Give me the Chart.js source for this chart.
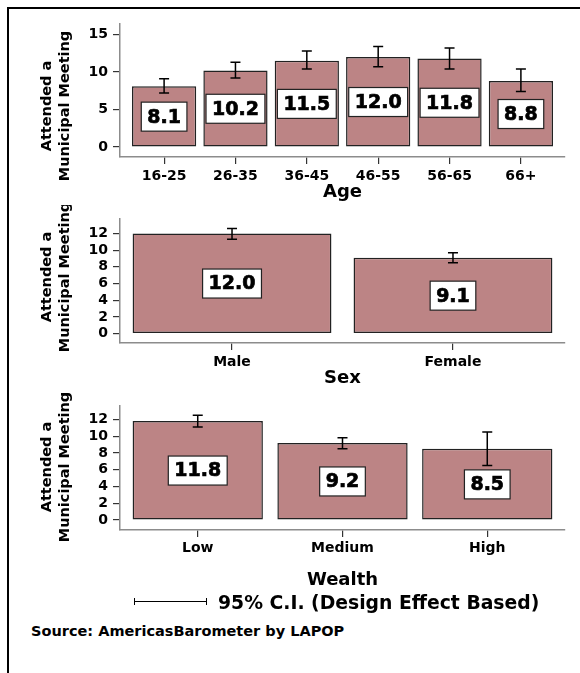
<!DOCTYPE html>
<html>
<head>
<meta charset="utf-8">
<script src="https://cdn.jsdelivr.net/npm/chart.js@4.4.1/dist/chart.umd.min.js"></script>
<style>
    body { margin: 0; background: #fff; }
    #page { position: relative; width: 580px; height: 673px; overflow: hidden; font-family: "DejaVu Sans", sans-serif; font-weight: bold; color: #000; }
    #frame { position: absolute; left: 7px; top: 7px; width: 700px; height: 800px; border-left: 2px solid #000; border-top: 2px solid #000; }
    canvas { position: absolute; left: 0; }
    .ci { position: absolute; left: 134px; top: 598px; width: 71px; height: 7px; border-left: 1.5px solid #000; border-right: 1.5px solid #000; }
    .ci::after { content: ''; position: absolute; left: 0; right: 0; top: 3px; border-top: 1.5px solid #000; }
    .note { position: absolute; white-space: nowrap; line-height: 1; }
</style>
</head>
<body>
<div id="page">
    <div id="frame"></div>
    <canvas id="ageChart" width="580" height="205" style="top:0px"></canvas>
    <canvas id="sexChart" width="580" height="187" style="top:205px"></canvas>
    <canvas id="wealthChart" width="580" height="201" style="top:392px"></canvas>
    <div class="ci"></div>
    <div class="note" style="left:218px; top:594px; font-size:18.8px;">95% C.I. (Design Effect Based)</div>
    <div class="note" style="left:31px; top:624px; font-size:14.5px;">Source: AmericasBarometer by LAPOP</div>
</div>
<script>
// Data
const yTitleLines = ['Attended a', 'Municipal Meeting'];

const ageLabels = ['16-25', '26-35', '36-45', '46-55', '56-65', '66+'];
const ageValues = [8.1, 10.2, 11.5, 12.0, 11.8, 8.8];
const ageLow = [7.2, 9.2, 10.4, 10.7, 10.4, 7.4];
const ageHigh = [9.1, 11.3, 12.8, 13.4, 13.2, 10.4];
const ageTicks = [0, 5, 10, 15];

const sexLabels = ['Male', 'Female'];
const sexValues = [12.0, 9.1];
const sexLow = [11.3, 8.5];
const sexHigh = [12.6, 9.7];
const sexTicks = [0, 2, 4, 6, 8, 10, 12];

const wealthLabels = ['Low', 'Medium', 'High'];
const wealthValues = [11.8, 9.2, 8.5];
const wealthLow = [11.1, 8.5, 6.5];
const wealthHigh = [12.5, 9.8, 10.5];
const wealthTicks = [0, 2, 4, 6, 8, 10, 12];

Chart.defaults.font.family = '"DejaVu Sans", sans-serif';
Chart.defaults.font.weight = 'bold';
Chart.defaults.color = '#000';

// error bars + white value boxes
const ciBars = {
    id: 'ciBars',
    afterDatasetsDraw(chart, args, opts) {
        const ctx = chart.ctx;
        const y = chart.scales.y;
        const bars = chart.getDatasetMeta(0).data;
        const vals = chart.data.datasets[0].data;
        ctx.save();
        ctx.strokeStyle = '#000';
        ctx.lineWidth = 1.5;
        bars.forEach((bar, i) => {
            const top = y.getPixelForValue(opts.high[i]);
            const bot = y.getPixelForValue(opts.low[i]);
            ctx.beginPath();
            ctx.moveTo(bar.x, top); ctx.lineTo(bar.x, bot);
            ctx.moveTo(bar.x - 5, top); ctx.lineTo(bar.x + 5, top);
            ctx.moveTo(bar.x - 5, bot); ctx.lineTo(bar.x + 5, bot);
            ctx.stroke();
        });
        ctx.font = 'bold 19px "DejaVu Sans"';
        ctx.textAlign = 'center';
        ctx.textBaseline = 'middle';
        bars.forEach((bar, i) => {
            const v = vals[i].y;
            const txt = v.toFixed(1);
            const w = ctx.measureText(txt).width + 12;
            const h = 29;
            const cy = y.getPixelForValue(v / 2);
            ctx.fillStyle = '#fff';
            ctx.fillRect(bar.x - w / 2, cy - h / 2, w, h);
            ctx.strokeStyle = '#222';
            ctx.lineWidth = 1.2;
            ctx.strokeRect(bar.x - w / 2, cy - h / 2, w, h);
            ctx.fillStyle = '#000';
            ctx.fillText(txt, bar.x, cy + 1);
            // a bit heavier, like the original black face
            ctx.strokeStyle = '#000';
            ctx.lineWidth = 0.7;
            ctx.strokeText(txt, bar.x, cy + 1);
        });
        ctx.restore();
    }
};

// two-line rotated y title
const sideTitle = {
    id: 'sideTitle',
    afterDraw(chart, args, opts) {
        const ctx = chart.ctx;
        ctx.save();
        ctx.font = 'bold 14.5px "DejaVu Sans"';
        ctx.fillStyle = '#000';
        ctx.textAlign = 'center';
        ctx.textBaseline = 'middle';
        yTitleLines.forEach((line, k) => {
            ctx.save();
            ctx.translate(opts.xs[k], opts.cy);
            ctx.rotate(-Math.PI / 2);
            ctx.fillText(line, 0, 0);
            ctx.restore();
        });
        ctx.restore();
    }
};

function makePanel(id, labels, values, low, high, yTicks, g) {
    const ctx = document.getElementById(id).getContext('2d');
    return new Chart(ctx, {
        type: 'bar',
        data: {
            datasets: [{
                data: labels.map((l, i) => ({ x: i, y: values[i] })),
                backgroundColor: 'rgb(188,132,133)',
                borderColor: '#222',
                borderWidth: 1.5,
                borderSkipped: false,
                barPercentage: 0.9,
                categoryPercentage: 1.0
            }]
        },
        options: {
            responsive: false,
            animation: false,
            layout: { padding: { top: g.top, left: 70, right: 15, bottom: 0 } },
            plugins: {
                legend: { display: false },
                tooltip: { enabled: false },
                ciBars: { low: low, high: high },
                sideTitle: { xs: [47, 65], cy: g.titleY }
            },
            scales: {
                x: {
                    type: 'linear',
                    offset: false,
                    min: -g.pad,
                    max: labels.length - 1 + g.pad,
                    afterBuildTicks: s => { s.ticks = labels.map((l, i) => ({ value: i })); },
                    afterFit: s => { s.height = g.xh; },
                    ticks: {
                        autoSkip: false,
                        maxRotation: 0,
                        padding: g.lp,
                        font: { size: 14 },
                        callback: v => labels[v]
                    },
                    grid: { offset: false, drawOnChartArea: false, drawTicks: true, tickLength: 7, color: '#333', lineWidth: 1.2 },
                    border: { display: true, color: '#8c8c8c', width: 1.5 },
                    title: { display: true, text: g.xTitle, font: { size: 18 }, padding: { top: 0, bottom: g.tp } }
                },
                y: {
                    min: g.ymin,
                    max: g.ymax,
                    afterBuildTicks: s => { s.ticks = yTicks.map(v => ({ value: v })); },
                    afterFit: s => { s.width = 50; },
                    ticks: { padding: 5, font: { size: 14 } },
                    grid: { drawOnChartArea: false, drawTicks: true, tickLength: 7, color: '#333', lineWidth: 1.2 },
                    border: { display: true, color: '#8c8c8c', width: 1.5 }
                }
            }
        },
        plugins: [ciBars, sideTitle]
    });
}

makePanel('ageChart', ageLabels, ageValues, ageLow, ageHigh, ageTicks,
    { top: 24, xh: 48, pad: 0.618, ymin: -1.33, ymax: 16.4, lp: 4, tp: 2.2, xTitle: 'Age', titleY: 106 });
makePanel('sexChart', sexLabels, sexValues, sexLow, sexHigh, sexTicks,
    { top: 5, xh: 49, pad: 0.507, ymin: -1.12, ymax: 13.8, lp: 4, tp: 3.2, xTitle: 'Sex', titleY: 72 });
makePanel('wealthChart', wealthLabels, wealthValues, wealthLow, wealthHigh, wealthTicks,
    { top: 5, xh: 63, pad: 0.537, ymin: -1.19, ymax: 13.67, lp: 3, tp: 2.2, xTitle: 'Wealth', titleY: 75 });
</script>
</body>
</html>
